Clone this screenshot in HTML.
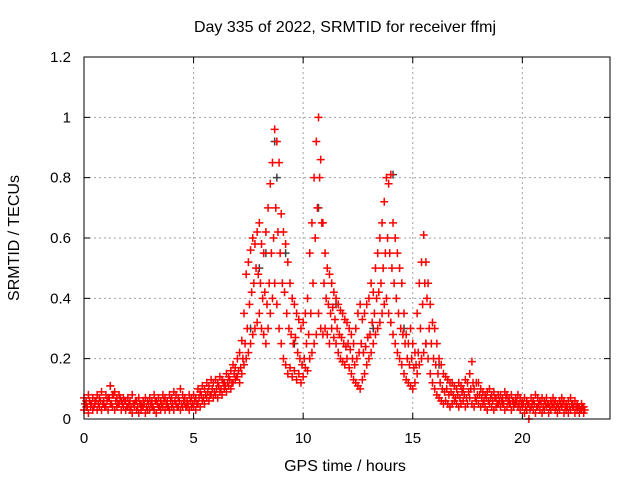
<!DOCTYPE html>
<html><head><meta charset="utf-8"><style>
html,body{margin:0;padding:0;background:#fff;}
svg{display:block;font-family:"Liberation Sans",sans-serif;}
</style></head><body>
<svg id="chart" width="640" height="480">
<text x="345" y="32" font-size="16" text-anchor="middle">Day 335 of 2022, SRMTID for receiver ffmj</text>
<text x="345" y="471" font-size="16" text-anchor="middle">GPS time / hours</text>
<text x="0" y="0" font-size="16" text-anchor="middle" transform="translate(19,238) rotate(-90)">SRMTID / TECUs</text>
<g id="grid"></g>
<g id="axes"></g>
<g id="marks"></g>
<rect x="84" y="57" width="526" height="362" fill="none" stroke="#000" stroke-width="1"/>
</svg>
<script>
const xTicks=[0,5,10,15,20];
const yTicks=[0,0.2,0.4,0.6,0.8,1,1.2];
const yTickLabels=["0","0.2","0.4","0.6","0.8","1","1.2"];
const tStart=0, tStep=0.1;
const upperSeries=[.07,.06,.08,.05,.07,.06,.08,.07,.09,.06,
.08,.07,.11,.08,.09,.07,.08,.06,.07,.06,
.07,.06,.08,.05,.06,.07,.05,.06,.07,.06,
.07,.06,.08,.06,.07,.06,.08,.07,.06,.08,
.07,.09,.08,.07,.10,.08,.07,.06,.08,.07,
.08,.07,.10,.09,.11,.10,.12,.11,.13,.12,
.13,.12,.14,.13,.12,.15,.14,.16,.18,.17,
.20,.22,.26,.35,.48,.52,.56,.60,.58,.62,
.65,.58,.55,.62,.70,.78,.85,.96,.92,.85,
.68,.62,.58,.52,.45,.40,.38,.35,.33,.30,
.32,.35,.40,.55,.65,.80,.92,1.0,.86,.65,
.55,.50,.48,.45,.42,.40,.38,.36,.35,.33,
.32,.30,.28,.25,.30,.35,.38,.33,.35,.38,
.40,.45,.42,.50,.55,.60,.65,.72,.80,.78,
.81,.65,.60,.55,.50,.45,.35,.28,.25,.30,
.25,.22,.35,.45,.52,.61,.52,.45,.38,.32,
.30,.25,.20,.18,.15,.14,.13,.12,.12,.11,
.10,.12,.11,.10,.13,.12,.15,.19,.10,.12,
.12,.10,.09,.08,.09,.10,.08,.09,.07,.08,
.08,.07,.09,.08,.07,.08,.06,.07,.08,.07,
.06,.07,.06,.05,.07,.06,.08,.07,.06,.07,
.06,.07,.05,.06,.07,.06,.05,.06,.07,.06,
.05,.06,.07,.05,.06,.05,.04,.05,.04];
const lowerSeries=[.03,.04,.02,.04,.03,.05,.03,.04,.03,.05,
.04,.03,.05,.04,.03,.04,.05,.03,.04,.03,
.04,.03,.02,.04,.03,.02,.03,.04,.02,.03,
.03,.04,.03,.02,.04,.03,.04,.03,.04,.03,
.04,.03,.05,.04,.03,.04,.05,.04,.03,.04,
.04,.03,.05,.04,.06,.05,.07,.06,.08,.07,
.08,.07,.09,.08,.10,.09,.11,.10,.12,.13,
.14,.12,.15,.18,.20,.22,.25,.28,.30,.32,
.35,.30,.28,.25,.30,.35,.40,.45,.38,.30,
.25,.20,.18,.15,.17,.14,.16,.13,.15,.12,
.14,.17,.16,.20,.22,.25,.28,.35,.30,.28,
.30,.28,.25,.30,.27,.25,.22,.20,.19,.18,
.20,.17,.15,.13,.12,.11,.10,.13,.15,.18,
.20,.22,.25,.28,.30,.32,.35,.38,.40,.35,
.32,.28,.25,.22,.20,.18,.15,.13,.12,.11,
.10,.12,.15,.18,.20,.22,.25,.20,.15,.12,
.10,.08,.07,.06,.05,.06,.05,.04,.05,.06,
.05,.04,.05,.06,.04,.05,.07,.05,.04,.06,
.05,.04,.05,.04,.03,.05,.04,.03,.04,.05,
.04,.05,.03,.04,.05,.03,.04,.05,.04,.03,
.04,.02,.03,.00,.04,.03,.02,.04,.03,.02,
.03,.04,.02,.03,.04,.03,.02,.03,.04,.02,
.03,.02,.03,.04,.02,.03,.02,.03,.02];
const middleSeries=[.05,.04,.06,.05,.04,.06,.05,.06,.05,.04,
.06,.07,.05,.08,.06,.05,.07,.05,.06,.04,
.05,.04,.05,.06,.04,.05,.04,.05,.04,.05,
.05,.04,.06,.05,.04,.05,.06,.05,.04,.06,
.05,.06,.04,.06,.05,.06,.04,.05,.06,.05,
.06,.05,.07,.08,.07,.08,.09,.08,.10,.09,
.10,.11,.10,.12,.11,.12,.13,.12,.15,.14,
.16,.17,.20,.25,.30,.38,.42,.45,.50,.48,
.45,.40,.42,.38,.45,.55,.60,.70,.62,.55,
.45,.42,.35,.30,.28,.25,.27,.22,.20,.18,
.20,.25,.28,.35,.45,.60,.70,.80,.65,.45,
.40,.38,.35,.37,.33,.30,.28,.27,.25,.24,
.25,.23,.20,.18,.20,.22,.25,.22,.24,.27,
.28,.32,.35,.40,.42,.45,.50,.55,.60,.55,
.50,.45,.40,.35,.30,.28,.25,.20,.18,.20,
.17,.18,.22,.30,.38,.45,.40,.30,.25,.20,
.18,.15,.12,.10,.09,.10,.08,.09,.08,.07,
.08,.07,.09,.08,.07,.09,.10,.12,.07,.08,
.08,.07,.06,.07,.06,.07,.06,.07,.05,.06,
.06,.05,.07,.06,.05,.06,.05,.06,.05,.05,
.05,.04,.05,.03,.05,.05,.04,.05,.05,.04,
.05,.05,.04,.05,.05,.04,.04,.05,.05,.04,
.04,.04,.05,.04,.04,.04,.03,.04,.03];
const greyTimes=[1.2,7.6,8.0,8.3,8.7,8.8,9.2,9.6,10.7,11.5,13.2,14.1,14.6,15.6,16.2];
const greyValues=[.11,.30,.50,.55,.92,.80,.55,.25,.70,.38,.30,.81,.30,.25,.18];

const NS="http://www.w3.org/2000/svg";
const X0=84,X1=610,Y0=419,Y1=57,XMAX=24,YMAX=1.2;
function xs(t){return X0+(X1-X0)*t/XMAX;}
function ys(v){return Y0-(Y0-Y1)*v/YMAX;}
const grid=document.getElementById('grid'),axes=document.getElementById('axes'),marks=document.getElementById('marks');
function mk(tag,attrs,parent){const e=document.createElementNS(NS,tag);for(const k in attrs)e.setAttribute(k,attrs[k]);parent.appendChild(e);return e;}
xTicks.forEach((t,i)=>{
  const x=xs(t);
  if(i>0){const g=mk('line',{x1:x,x2:x,y1:Y0,y2:Y1,stroke:'#a0a0a0','stroke-dasharray':'2,3'},grid);
  
  }
  const tk=mk('path',{d:`M${x},${Y0}v-6M${x},${Y1}v6`,stroke:'#000'},axes);
  
  
  const lb=mk('text',{x:x,y:Y0+24,'font-size':'15','text-anchor':'middle'},axes);lb.textContent=String(t);
  
  
});
yTicks.forEach((v,i)=>{
  const y=ys(v);
  if(i>0&&i<yTicks.length-1){const g=mk('line',{x1:X0,x2:X1,y1:y,y2:y,stroke:'#a0a0a0','stroke-dasharray':'2,3'},grid);
  
  }
  const tk=mk('path',{d:`M${X0},${y}h6M${X1},${y}h-6`,stroke:'#000'},axes);
  
  
  const lb=mk('text',{x:X0-13,y:y+5,'font-size':'15','text-anchor':'end'},axes);lb.textContent=yTickLabels[i];
  
  
});
function plus(t,v,color,name){
  const x=xs(t),y=ys(v);
  const p=mk('path',{d:`M${x-4},${y}h8M${x},${y-4}v8`,stroke:color,'stroke-width':'1.5',fill:'none'},marks);
  
  
}
greyTimes.forEach((t,i)=>plus(t,greyValues[i],'#404040','grey-point'));
upperSeries.forEach((v,i)=>plus(tStart+i*tStep,v,'#ff0000','red-point'));
middleSeries.forEach((v,i)=>plus(tStart+i*tStep+tStep/2,v,'#ff0000','red-point'));
lowerSeries.forEach((v,i)=>plus(tStart+i*tStep,v,'#ff0000','red-point'));
</script>
</body></html>
